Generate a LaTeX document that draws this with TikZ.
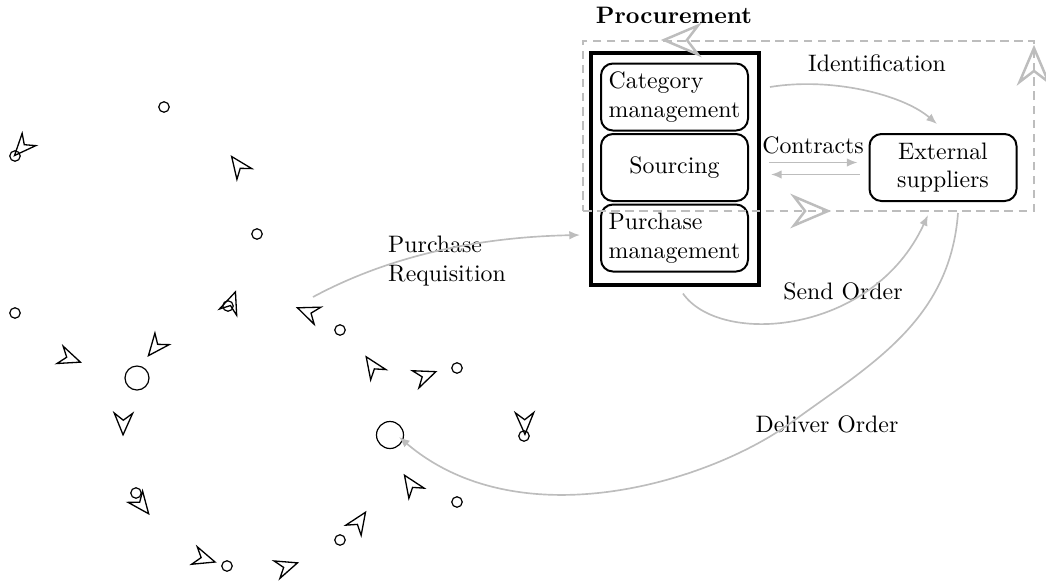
\documentclass[tikz,border=0pt]{standalone}
\usetikzlibrary{arrows.meta}
\definecolor{lgray}{gray}{0.74}
\tikzset{
  mk/.pic={\draw[pic actions] (10,0) -- (-10,8.5) -- (-3.5,0) -- (-10,-8.5) -- cycle;},
  marker/.style={line width=0.55pt, black, scale=1.08},
  bigmark/.style={draw=lgray, line width=1.05pt, scale=1.7},
  dot/.style={circle, draw, line width=0.5pt, minimum size=4.4pt, inner sep=0pt},
  bigdot/.style={circle, draw, line width=0.5pt, inner sep=0pt},
  box/.style={draw, line width=0.84pt, rounded corners=5pt, minimum width=61.74pt, minimum height=28.14pt, inner sep=0pt},
  conn/.style={draw=lgray, line width=0.7pt, -{Latex[length=4.5pt,width=3.6pt]}},
  lbl/.style={inner sep=1pt}
}
\begin{document}
\begin{tikzpicture}[x=0.42pt,y=-0.42pt]
\useasboundingbox (0,0) rectangle (1046,581);

% procurement group
\node[draw, line width=1.3pt, minimum width=70.56pt, minimum height=97.44pt, inner sep=0pt] (proc) at (675,169) {};
\node[lbl, font=\bfseries] (title) at (674,15) {Procurement};
\node[box, align=left] (cat) at (674.5,97) {Category\\management};
\node[box] (src) at (674.5,167.5) {Sourcing};
\node[box, align=left] (pur) at (674.5,238) {Purchase\\management};
\node[box, align=center] (ext) at (943,167.5) {External\\suppliers};

% dashed loop
\node[draw=lgray, line width=1pt, dash pattern=on 3.6pt off 2.3pt, minimum width=189.4pt, minimum height=71.4pt, inner sep=0pt] (loop) at (808.5,126) {};
\pic[bigmark, rotate=180] at (681,40) {mk};
\pic[bigmark, rotate=90] at (1034,65) {mk};
\pic[bigmark, rotate=0] at (811,211) {mk};

% labels
\node[lbl] (lid) at (877,63) {Identification};
\node[lbl] (lcon) at (813,145) {Contracts};
\node[lbl, align=left] (lreq) at (447,261) {Purchase\\Requisition};
\node[lbl] (lsend) at (843,291) {Send Order};
\node[lbl] (ldel) at (827,424) {Deliver Order};

% scattered markers: circles
\node[dot] (d1) at (164,107) {};
\node[dot] (d2) at (15,156) {};
\node[dot] (d3) at (257,234) {};
\node[dot] (d4) at (15,313) {};
\node[dot] (d5) at (340,330) {};
\node[dot] (d6) at (228,306) {};
\node[dot] (d7) at (457,368) {};
\node[dot] (d8) at (524,436) {};
\node[dot] (d9) at (136,493) {};
\node[dot] (d10) at (457,502) {};
\node[dot] (d11) at (340,540) {};
\node[dot] (d12) at (227,566) {};
\node[bigdot, minimum size=10.08pt] (b1) at (137,378) {};
\node[bigdot, minimum size=11.34pt] (b2) at (390,435) {};

% scattered markers: arrowheads
\pic[marker, rotate=-132] at (21.75,147.5) {mk};
\pic[marker, rotate=126] at (238,165.25) {mk};
\pic[marker, rotate=70] at (231.75,302) {mk};
\pic[marker, rotate=158.5] at (307.5,311.75) {mk};
\pic[marker, rotate=-19.7] at (70.25,358.5) {mk};
\pic[marker, rotate=-129] at (155.25,347.25) {mk};
\pic[marker, rotate=-91] at (123.25,424) {mk};
\pic[marker, rotate=124] at (372.25,365.75) {mk};
\pic[marker, rotate=20.7] at (425.75,375.5) {mk};
\pic[marker, rotate=-89] at (524.75,423.5) {mk};
\pic[marker, rotate=123.7] at (410.5,484.25) {mk};
\pic[marker, rotate=56.3] at (359.5,521.25) {mk};
\pic[marker, rotate=-52] at (142,505.25) {mk};
\pic[marker, rotate=-17.6] at (204.75,558.75) {mk};
\pic[marker, rotate=18.4] at (287.25,566.25) {mk};

% connectors
\coordinate (req) at (313,297);
\coordinate (dmid) at (792,422);
\draw[conn] ([shift={(21,-10)}]cat.east) .. controls +(60,-10) and +(-35,-30) .. ([shift={(-6,-9)}]ext.north);
\draw[conn] ([shift={(20,-5)}]src.east) -- ([shift={(-11,-5)}]ext.west);
\draw[conn] ([shift={(-9,7)}]ext.west) -- ([shift={(22,7)}]src.east);
\draw[conn] (req) .. controls +(78,-42) and +(-100,2) .. ([shift={(-20,-3)}]pur.west);
\draw[conn] ([shift={(8,7)}]proc.south) .. controls +(37,53) and +(-55,120) .. ([shift={(-15,13)}]ext.south);
\draw[conn] ([shift={(15,11)}]ext.south) .. controls +(-8,108) and +(78,-57) .. (dmid)
  .. controls +(-82,60) and +(121,103) .. ([shift={(9,2)}]b2.center);
\end{tikzpicture}
\end{document}
